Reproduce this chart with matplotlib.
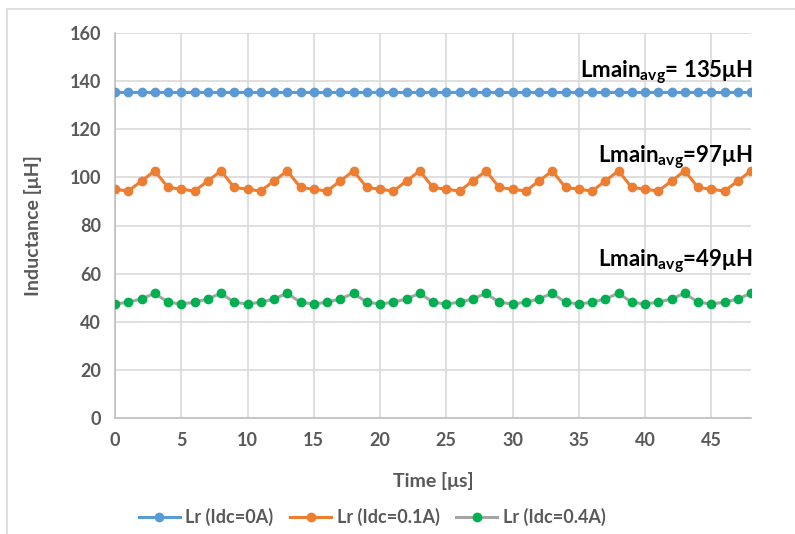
import matplotlib
matplotlib.use("Agg")
import matplotlib.pyplot as plt
from matplotlib.patches import Rectangle

time_us = list(range(0, 49))
lr_0a = [135.5] * 49
# one period of the ripple, repeated every 5 us
orange_period = [95.1, 94.3, 98.5, 102.7, 95.8]
green_period = [47.4, 48.1, 49.5, 51.8, 48.1]
lr_01a = [orange_period[i % 5] for i in time_us]
lr_04a = [green_period[i % 5] for i in time_us]

labels = ["Lr (Idc=0A)", "Lr (Idc=0.1A)", "Lr (Idc=0.4A)"]
notes = ["= 135", "=97", "=49"]
note_y = [141.7, 106.4, 62.8]

plt.rcParams["font.family"] = ["Lato", "DejaVu Sans"]
plt.rcParams["mathtext.fontset"] = "custom"
plt.rcParams["mathtext.rm"] = "Lato:bold"
plt.rcParams["mathtext.bf"] = "Lato:bold"
plt.rcParams["mathtext.it"] = "Lato:bold"

fig = plt.figure(figsize=(7.95, 5.34), dpi=100)
fig.patches.append(Rectangle((7 / 795, -0.1), 1.2, (534 - 9) / 534 + 0.1,
                             transform=fig.transFigure, fill=False,
                             edgecolor="#D9D9D9", lw=1.2))
ax = fig.add_axes([115 / 795, (534 - 418) / 534, 636 / 795, 385 / 534])

ax.plot(time_us, lr_0a, color="#5B9BD5", lw=2.2, marker="o", ms=6,
        mfc="#5B9BD5", mec="#5B9BD5", label=labels[0], zorder=3)
ax.plot(time_us, lr_01a, color="#ED7D31", lw=2.2, marker="o", ms=6,
        mfc="#ED7D31", mec="#ED7D31", label=labels[1], zorder=3)
ax.plot(time_us, lr_04a, color="#A5A5A5", lw=2.2, marker="o", ms=6,
        mfc="#00B050", mec="#00B050", label=labels[2], zorder=3)

ax.set_xlim(0, 48)
ax.set_ylim(0, 160)
ax.set_xticks(range(0, 46, 5))
ax.set_yticks(range(0, 161, 20))
ax.grid(True, color="#D9D9D9", lw=1.2)
ax.set_axisbelow(True)
for s in ["top", "right"]:
    ax.spines[s].set_visible(False)
for s in ["left", "bottom"]:
    ax.spines[s].set_color("#BFBFBF")
    ax.spines[s].set_linewidth(1.2)
ax.tick_params(length=0, pad=10, labelsize=13, labelcolor="#595959")
for t in ax.get_xticklabels() + ax.get_yticklabels():
    t.set_fontweight("bold")

ax.set_xlabel("Time [μs]", fontsize=14, fontweight="bold", color="#595959", labelpad=17)
ax.set_ylabel("Inductance [μH]", fontsize=14, fontweight="bold", color="#595959", labelpad=20)

for n, y in zip(notes, note_y):
    ax.text(48.1, y, r"Lmain$_{\mathrm{avg}}$" + n + "μH", ha="right", va="baseline",
            fontsize=16, fontweight="bold", color="black")

fig.legend(loc="center", bbox_to_anchor=(0.468, 0.032), ncol=3, frameon=False,
           handlelength=2.3, handletextpad=0.3, columnspacing=0.9,
           labelcolor="#595959", prop={"weight": "bold", "size": 13})

fig.savefig("out.png", dpi=100)
